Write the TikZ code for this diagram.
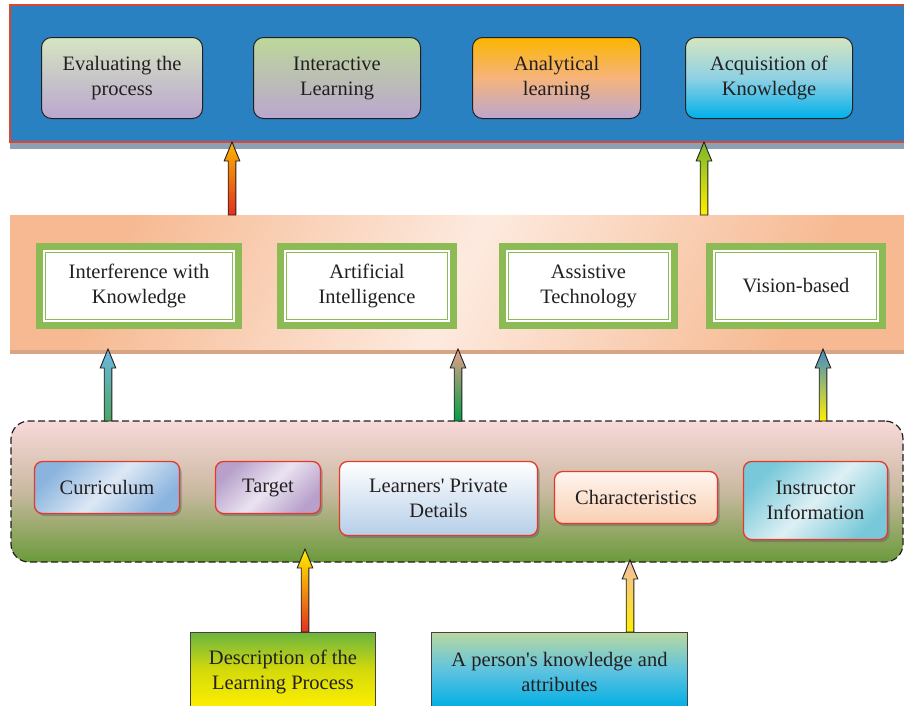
\documentclass[tikz,border=0pt]{standalone}
\usepackage{fontspec}
\setmainfont{Liberation Serif}
\usepackage{tikz}
\usetikzlibrary{calc,shadows}

\definecolor{txt}{HTML}{231F20}
\definecolor{panelblue}{HTML}{2A81C1}
\definecolor{panelred}{HTML}{E0452F}
\definecolor{greyband}{HTML}{8DA1B5}
\definecolor{peachA}{HTML}{F6B991}
\definecolor{peachB}{HTML}{FDEADF}
\definecolor{peachband}{HTML}{D7A584}
\definecolor{frame}{HTML}{8CBB55}
\definecolor{dashTop}{HTML}{F8D9D9}
\definecolor{dashMid}{HTML}{C9B9A0}
\definecolor{dashBot}{HTML}{6A9A3A}
\definecolor{boxred}{HTML}{E4392A}
% top row fills
\definecolor{lightgreen}{HTML}{D5E5C1}
\definecolor{midgreen}{HTML}{BCD89A}
\definecolor{lavender}{HTML}{BBA6CF}
\definecolor{amber}{HTML}{FBB500}
\definecolor{apricot}{HTML}{F6B47C}
\definecolor{skyA}{HTML}{8FD1E3}
\definecolor{cyanB}{HTML}{00B0EA}
% bottom row fills
\definecolor{curA}{HTML}{8AB4DE}
\definecolor{curB}{HTML}{DDE8F4}
\definecolor{tarA}{HTML}{B8A0CB}
\definecolor{tarB}{HTML}{EAE3F0}
\definecolor{lrnB}{HTML}{B5CEE8}
\definecolor{chaA}{HTML}{FFF5EF}
\definecolor{chaB}{HTML}{F9CFB2}
\definecolor{insA}{HTML}{78C8D9}
\definecolor{insB}{HTML}{DDF0F4}
% source boxes
\definecolor{srcGreen}{HTML}{6AB440}
\definecolor{srcOlive}{HTML}{D4DA0A}
\definecolor{srcYellow}{HTML}{FFEF00}
\definecolor{srcPale}{HTML}{BAD89F}
\definecolor{srcSky}{HTML}{5EC3DF}
\definecolor{srcCyan}{HTML}{00AEE5}
% arrow fills
\definecolor{arOrange}{HTML}{FBB500}
\definecolor{arRed}{HTML}{E3301F}
\definecolor{arGreen}{HTML}{79B52E}
\definecolor{arYellow}{HTML}{FFEF00}
\definecolor{arSky}{HTML}{6DB8E2}
\definecolor{arTeal}{HTML}{4DA564}
\definecolor{arPink}{HTML}{E59E8E}
\definecolor{arDeepGreen}{HTML}{00A045}
\definecolor{arBlue}{HTML}{3E8BCB}
\definecolor{arSalmon}{HTML}{F2BCA6}

\tikzset{
  every node/.style={outer sep=0pt, inner sep=0pt, align=center, text=txt,
    font=\fontsize{20.5}{25}\selectfont},
  topbox/.style={draw=txt, line width=1pt, rounded corners=10pt, minimum height=81pt},
  midbox/.style={draw=frame, line width=7pt, fill=white, minimum height=79pt},
  innerframe/.style={draw=frame, line width=1.3pt},
  botbox/.style={draw=boxred, line width=1.3pt, rounded corners=8pt,
    drop shadow={shadow xshift=2pt, shadow yshift=-2.5pt, fill=black!60}},
  srcbox/.style={draw=txt!85, line width=1pt, minimum height=76pt},
}

% vertical block arrow from #1 (tail) to #2 (tip), shaded #3 (top) to #4 (bottom)
\newcommand\blockarrow[4]{%
  \shade[top color=#3, bottom color=#4, draw=txt, line width=0.9pt, line join=miter]
    let \p1=(#1), \p2=(#2) in
    (\x1-3.8pt,\y1) -- (\x1-3.8pt,\y2-19pt) -- (\x1-7.8pt,\y2-19pt) -- (\x1,\y2)
    -- (\x1+7.8pt,\y2-19pt) -- (\x1+3.8pt,\y2-19pt) -- (\x1+3.8pt,\y1) -- cycle;}

\begin{document}
\begin{tikzpicture}[x=1pt,y=-1pt]
\useasboundingbox (0,0) rectangle (904,705);

% ---- panels ----
\node[fill=greyband, minimum width=896pt, minimum height=7pt, anchor=north west] (topband) at (10,142) {};
\node[fill=panelblue, draw=panelred, line width=1.5pt, minimum width=896pt, minimum height=137pt,
      anchor=north west] (top) at (10,5) {};

\node[fill=peachband, minimum width=896pt, minimum height=6pt, anchor=north west] (midband) at (10,348) {};
\node[left color=peachA, right color=peachA, middle color=peachB, shading angle=65,
      minimum width=896pt, minimum height=134pt, anchor=north west] (mid) at (10,215) {};

\node[top color=dashTop, bottom color=dashBot, middle color=dashMid, draw=txt, line width=1.2pt,
      dash pattern=on 7pt off 3.5pt, rounded corners=18pt,
      minimum width=892pt, minimum height=141pt, anchor=north west] (lp) at (11,421) {};

% ---- top row ----
\node[topbox, minimum width=161pt, top color=lightgreen, bottom color=lavender] (eval) at (122,78) {Evaluating the\\process};
\node[topbox, minimum width=167pt, top color=midgreen, bottom color=lavender] (inter) at (337,78) {Interactive\\Learning};
\node[topbox, minimum width=168pt, top color=amber, bottom color=lavender, middle color=apricot] (analy) at (556.5,78) {Analytical\\learning};
\node[topbox, minimum width=167pt, top color=lightgreen, bottom color=cyanB, middle color=skyA] (acq) at (769,78) {Acquisition of\\Knowledge};

% ---- middle row ----
\node[midbox, minimum width=199pt] (interf) at (139,286) {Interference with\\Knowledge};
\node[midbox, minimum width=173pt] (artif) at (367,286) {Artificial\\Intelligence};
\node[midbox, minimum width=172pt] (assist) at (588.5,286) {Assistive\\Technology};
\node[midbox, minimum width=173pt] (vision) at (796,286) {Vision-based};
\foreach \n in {interf,artif,assist,vision}
  \draw[innerframe] ([shift={(6.2,6.2)}]\n.north west) rectangle ([shift={(-6.2,-6.2)}]\n.south east);

% ---- lower row ----
\node[botbox, minimum width=145pt, minimum height=52pt,
      left color=curA, right color=curA, middle color=curB, shading angle=45] (curric) at (107,487.5) {Curriculum};
\node[botbox, minimum width=105pt, minimum height=52pt,
      left color=tarA, right color=tarA, middle color=tarB, shading angle=45] (target) at (268,487.5) {Target};
\node[botbox, minimum width=198pt, minimum height=74pt,
      top color=white, bottom color=lrnB] (learn) at (438.5,498.5) {Learners\textquotesingle{} Private\\Details};
\node[botbox, minimum width=163pt, minimum height=52pt,
      top color=chaA, bottom color=chaB] (charac) at (636,497.5) {Characteristics};
\node[botbox, minimum width=144pt, minimum height=78pt,
      left color=insA, right color=insA, middle color=insB, shading angle=45] (instr) at (815.5,500.5) {Instructor\\Information};

% ---- source boxes ----
\node[srcbox, minimum width=185pt, top color=srcGreen, bottom color=srcYellow, middle color=srcOlive,
      anchor=north] (desc) at (283,632) {\strut Description of the\\Learning Process};
\node[srcbox, minimum width=256pt, top color=srcPale, bottom color=srcCyan, middle color=srcSky,
      anchor=north] (person) at (559.5,632) {\strut A person\textquotesingle s knowledge and\\attributes};

% ---- arrows ----
\coordinate (x1) at (232,0);
\coordinate (x2) at (704,0);
\coordinate (x3) at (108,0);
\coordinate (x4) at (458,0);
\coordinate (x5) at (823,0);
\coordinate (x6) at (305,0);
\coordinate (x7) at (630,0);
\blockarrow{x1 |- mid.north}{x1 |- top.south}{arOrange}{arRed}
\blockarrow{x2 |- mid.north}{x2 |- top.south}{arGreen}{arYellow}
\blockarrow{x3 |- lp.north}{x3 |- mid.south}{arSky}{arTeal}
\blockarrow{x4 |- lp.north}{x4 |- mid.south}{arPink}{arDeepGreen}
\blockarrow{x5 |- lp.north}{x5 |- mid.south}{arBlue}{arYellow}
\blockarrow{x6 |- desc.north}{$(x6 |- lp.south)+(0,-13)$}{arYellow}{arRed}
\blockarrow{x7 |- person.north}{$(x7 |- lp.south)+(0,-2)$}{arSalmon}{arYellow}
\end{tikzpicture}
\end{document}
